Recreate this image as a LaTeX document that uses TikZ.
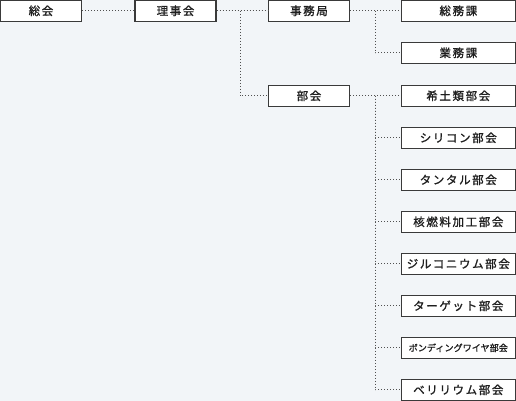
\documentclass[tikz,border=0pt]{standalone}
\usepackage{fontspec}
\newfontfamily\jpfont[LetterSpace=14,FakeBold=1.2]{Noto Sans CJK JP}
\newfontfamily\jpnarrow[FakeBold=1.2]{Noto Sans CJK JP}
\definecolor{bgc}{HTML}{F2F5F8}
\definecolor{boxline}{HTML}{3A3A3A}
\definecolor{dotc}{HTML}{505050}
\definecolor{txt}{HTML}{1E1E1E}
\tikzset{
  orgbox/.style={draw=boxline, line width=1.3pt, fill=white, inner sep=0pt,
    minimum height=21pt, font=\jpfont\fontsize{11.5}{12}\selectfont, text=txt},
  leftbox/.style={orgbox, minimum width=81pt},
  rightbox/.style={orgbox, minimum width=114pt},
  conn/.style={draw=dotc, line width=1pt, dotted}
}
\begin{document}
\begin{tikzpicture}[x=1pt,y=-1pt]
\fill[bgc] (0,0) rectangle (516,401);
\useasboundingbox (0,0) rectangle (516,401);
\node[leftbox] (sokai) at (41,10.8) {総会};
\node[leftbox] (rijikai) at (175.5,10.8) {理事会};
\node[leftbox] (jimu) at (309,10.8) {事務局};
\node[leftbox] (bukai) at (309,95.8) {部会};
\node[rightbox] (somu) at (458.3,10.8) {総務課};
\node[rightbox] (gyomu) at (458.3,52.8) {業務課};
\node[rightbox] (kido) at (458.3,95.8) {希土類部会};
\node[rightbox] (si) at (458.3,137.8) {シリコン部会};
\node[rightbox] (ta) at (458.3,179.8) {タンタル部会};
\node[rightbox] (kaku) at (458.3,221.8) {核燃料加工部会};
\node[rightbox] (zr) at (458.3,263.8) {ジルコニウム部会};
\node[rightbox] (tg) at (458.3,305.8) {ターゲット部会};
\node[rightbox, font=\jpnarrow\fontsize{9.1}{10}\selectfont] (bw) at (458.3,347.8) {ボンディングワイヤ部会};
\node[rightbox] (be) at (458.3,389.8) {ベリリウム部会};
\coordinate (j1) at (240,10.8);
\coordinate (j2) at (375.3,10.8);
\coordinate (j3) at (375.3,95.8);
\draw[conn] (sokai.east) -- (rijikai.west);
\draw[conn] (rijikai.east) -- (jimu.west);
\draw[conn] (j1) |- (bukai.west);
\draw[conn] (jimu.east) -- (somu.west);
\draw[conn] (j2) |- (gyomu.west);
\draw[conn] (bukai.east) -- (kido.west);
\foreach \n in {si,ta,kaku,zr,tg,bw,be}{
  \draw[conn] (j3) |- (\n.west);
}
\end{tikzpicture}
\end{document}
